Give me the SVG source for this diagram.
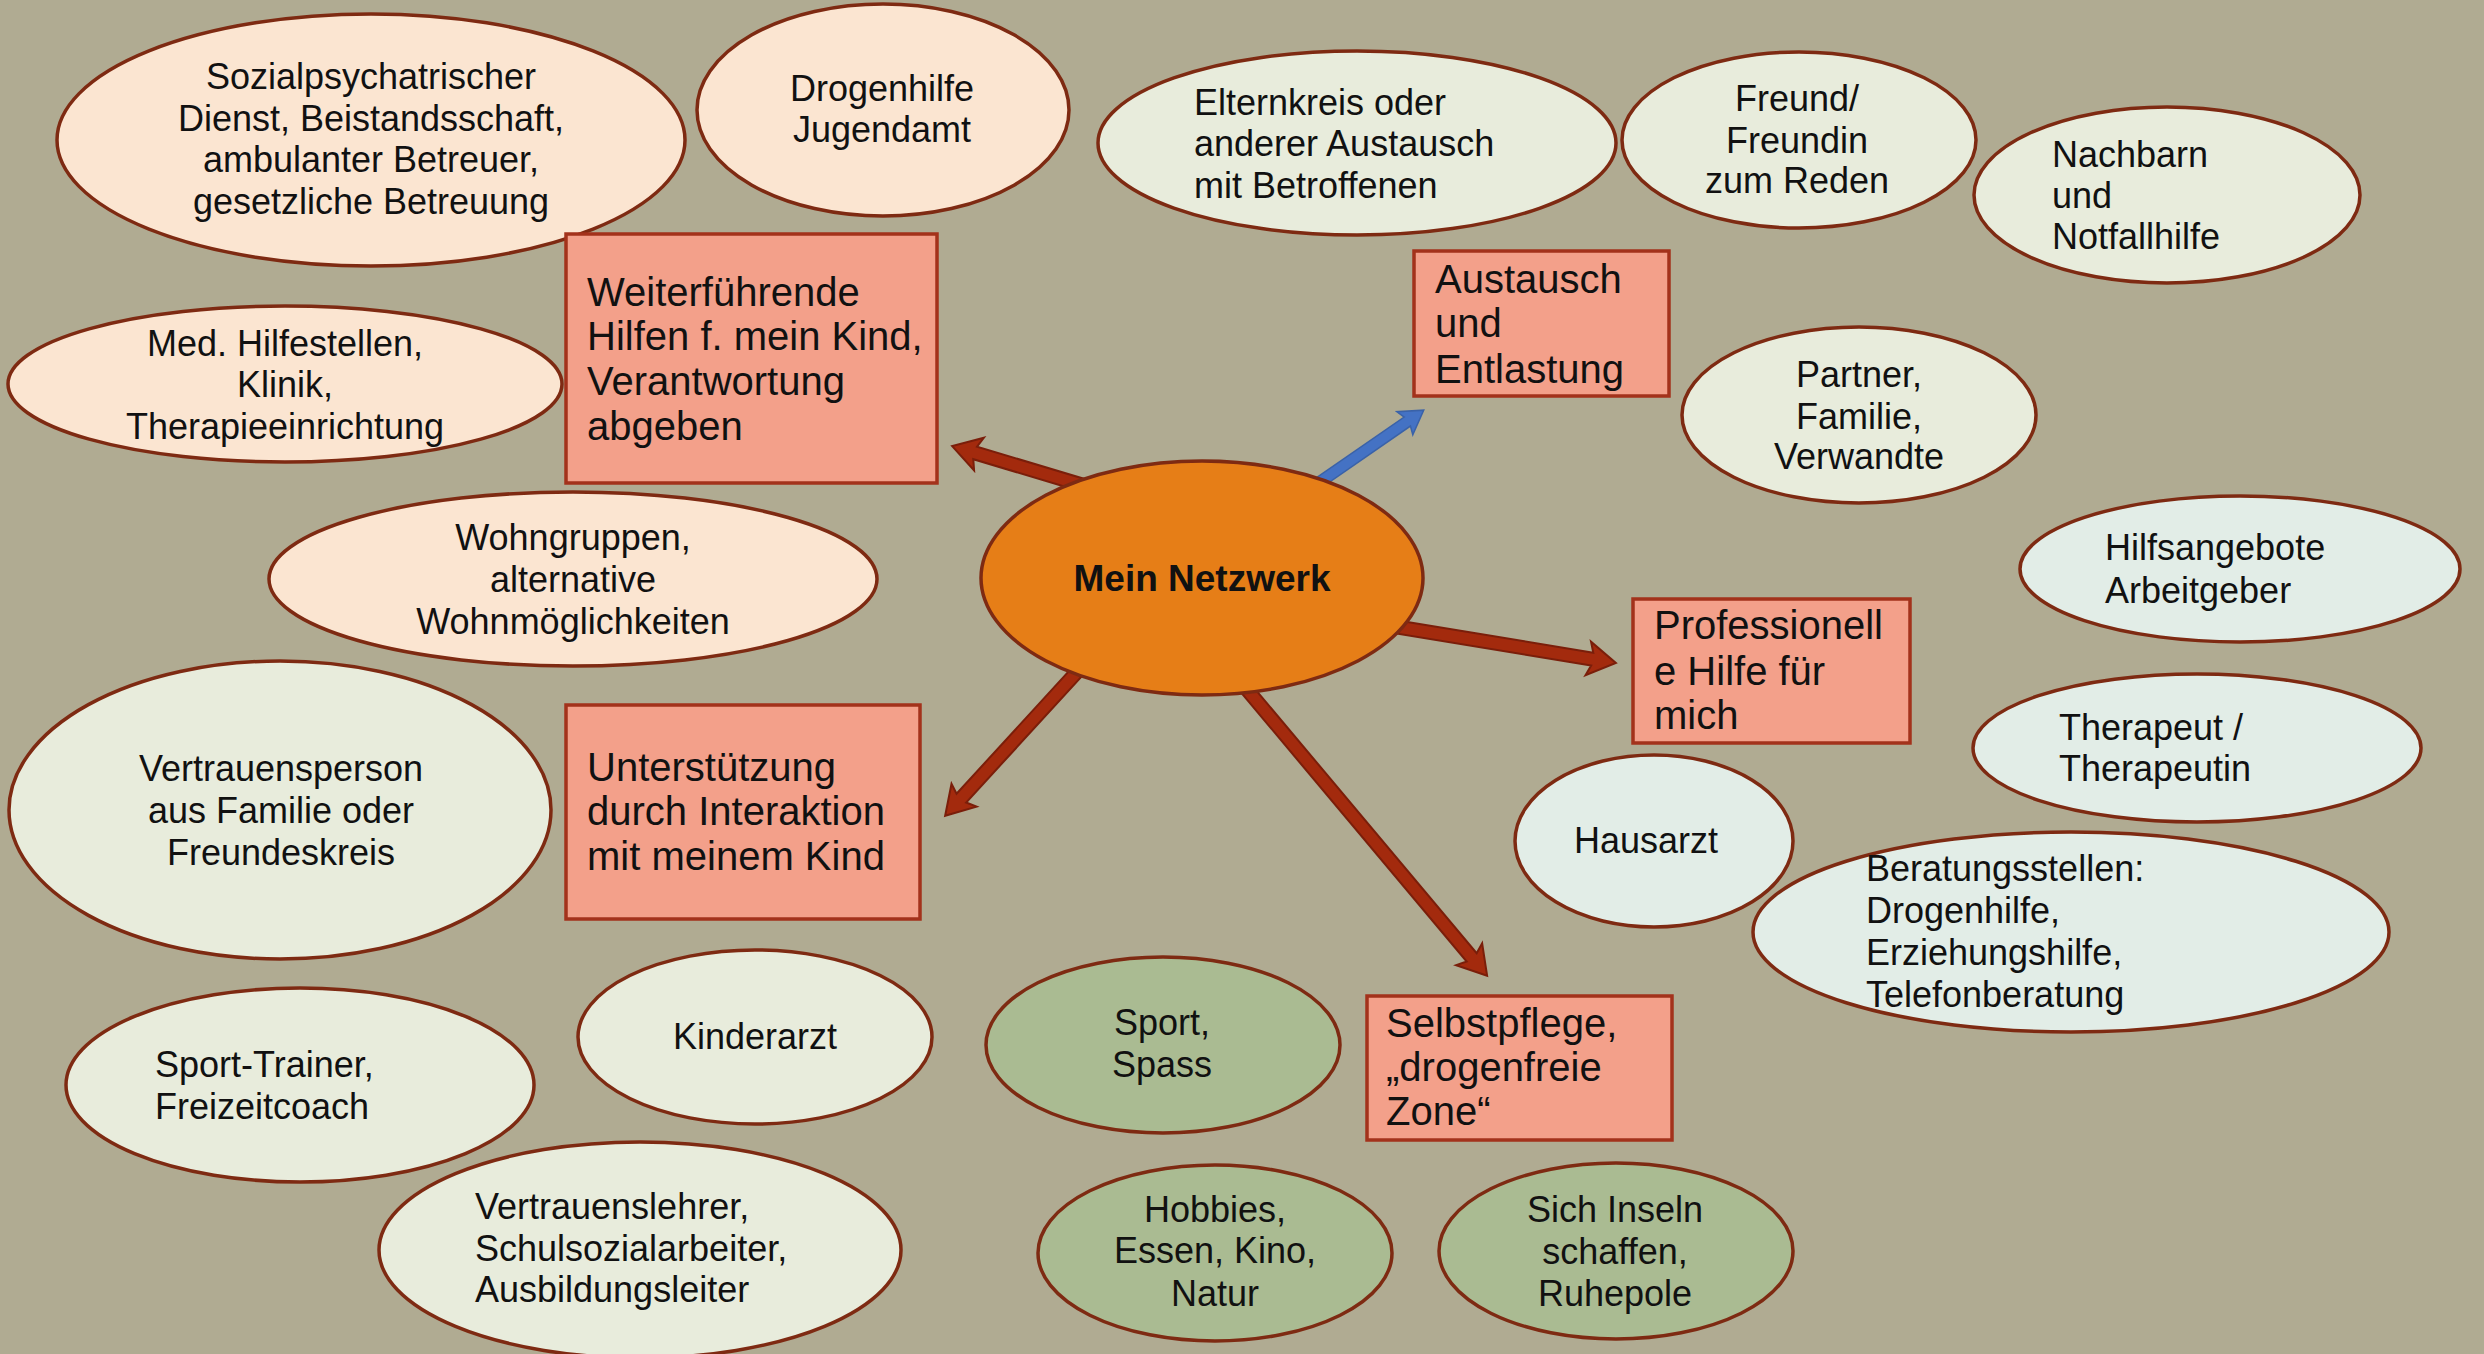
<svg xmlns="http://www.w3.org/2000/svg" width="2484" height="1354" viewBox="0 0 2484 1354">
<style>
.bg{fill:#B0AB92}
.peach{fill:#FBE5D1;stroke:#7E2A12;stroke-width:3.5}
.lg{fill:#E8ECDC;stroke:#7E2A12;stroke-width:3.5}
.lb{fill:#E2EDE7;stroke:#7E2A12;stroke-width:3.5}
.gr{fill:#AABB92;stroke:#7E2A12;stroke-width:3.5}
.box{fill:#F3A08A;stroke:#A3321B;stroke-width:3.5}
.ctr{fill:#E67E17;stroke:#7E2A12;stroke-width:3.5}
.arr{fill:#A32A0D;stroke:#7A1E0A;stroke-width:2;stroke-linejoin:miter}
.arrb{fill:#4472C4;stroke:#3A62A8;stroke-width:1.5}
text{font-family:"Liberation Sans",Arial,sans-serif;font-size:36px;fill:#111}
.c{text-anchor:middle}
.bt{font-size:40px}
.ct{font-size:37px;font-weight:bold;text-anchor:middle}
</style>
<rect class="bg" x="0" y="0" width="2484" height="1354"/>
<g id="connectors">
<polygon class="arr" transform="translate(1092,488) rotate(196.7)" points="0,-6.5 122,-6.5 118,-17 146,0 118,17 122,6.5 0,6.5"/>
<polygon class="arrb" transform="translate(1307,491) rotate(-34.7)" points="0,-5.5 122,-5.5 119,-14 142,0 119,14 122,5.5 0,5.5"/>
<polygon class="arr" transform="translate(1385,625) rotate(9.34)" points="0,-6.5 210,-6.5 206,-17 234,0 206,17 210,6.5 0,6.5"/>
<polygon class="arr" transform="translate(1087,661) rotate(132.5)" points="0,-6.5 186,-6.5 182,-17 210,0 182,17 186,6.5 0,6.5"/>
<polygon class="arr" transform="translate(1239,680) rotate(50)" points="0,-6.5 362,-6.5 358,-17 386,0 358,17 362,6.5 0,6.5"/>
</g>
<g id="n-sozial">
<ellipse class="peach" cx="371" cy="140" rx="314" ry="126"/>
<text class="c" x="371" y="89">Sozialpsychatrischer</text>
<text class="c" x="371" y="131">Dienst, Beistandsschaft,</text>
<text class="c" x="371" y="172">ambulanter Betreuer,</text>
<text class="c" x="371" y="214">gesetzliche Betreuung</text>
</g>
<g id="n-drogenhilfe">
<ellipse class="peach" cx="883" cy="110" rx="186" ry="106"/>
<text class="c" x="882" y="101">Drogenhilfe</text>
<text class="c" x="882" y="142">Jugendamt</text>
</g>
<g id="n-weiterfuehrende">
<rect class="box" x="566" y="234" width="371" height="249"/>
<text class="bt" x="587" y="306">Weiterführende</text>
<text class="bt" x="587" y="350">Hilfen f. mein Kind,</text>
<text class="bt" x="587" y="395">Verantwortung</text>
<text class="bt" x="587" y="440">abgeben</text>
</g>
<g id="n-med">
<ellipse class="peach" cx="285" cy="384" rx="277" ry="78"/>
<text class="c" x="285" y="356">Med. Hilfestellen,</text>
<text class="c" x="285" y="397">Klinik,</text>
<text class="c" x="285" y="439">Therapieeinrichtung</text>
</g>
<g id="n-wohngruppen">
<ellipse class="peach" cx="573" cy="579" rx="304" ry="87"/>
<text class="c" x="573" y="550">Wohngruppen,</text>
<text class="c" x="573" y="592">alternative</text>
<text class="c" x="573" y="634">Wohnmöglichkeiten</text>
</g>
<g id="n-center">
<ellipse class="ctr" cx="1202" cy="578" rx="221" ry="117"/>
<text class="ct" x="1202" y="591">Mein Netzwerk</text>
</g>
<g id="n-vertrauensperson">
<ellipse class="lg" cx="280" cy="810" rx="271" ry="149"/>
<text class="c" x="281" y="781">Vertrauensperson</text>
<text class="c" x="281" y="823">aus Familie oder</text>
<text class="c" x="281" y="865">Freundeskreis</text>
</g>
<g id="n-unterstuetzung">
<rect class="box" x="566" y="705" width="354" height="214"/>
<text class="bt" x="587" y="781">Unterstützung</text>
<text class="bt" x="587" y="825">durch Interaktion</text>
<text class="bt" x="587" y="870">mit meinem Kind</text>
</g>
<g id="n-sporttrainer">
<ellipse class="lg" cx="300" cy="1085" rx="234" ry="97"/>
<text x="155" y="1077">Sport-Trainer,</text>
<text x="155" y="1119">Freizeitcoach</text>
</g>
<g id="n-kinderarzt">
<ellipse class="lg" cx="755" cy="1037" rx="177" ry="87"/>
<text class="c" x="755" y="1049">Kinderarzt</text>
</g>
<g id="n-vertrauenslehrer">
<ellipse class="lg" cx="640" cy="1250" rx="261" ry="108"/>
<text x="475" y="1219">Vertrauenslehrer,</text>
<text x="475" y="1261">Schulsozialarbeiter,</text>
<text x="475" y="1302">Ausbildungsleiter</text>
</g>
<g id="n-sport">
<ellipse class="gr" cx="1163" cy="1045" rx="177" ry="88"/>
<text class="c" x="1162" y="1035">Sport,</text>
<text class="c" x="1162" y="1077">Spass</text>
</g>
<g id="n-hobbies">
<ellipse class="gr" cx="1215" cy="1253" rx="177" ry="88"/>
<text class="c" x="1215" y="1222">Hobbies,</text>
<text class="c" x="1215" y="1263">Essen, Kino,</text>
<text class="c" x="1215" y="1306">Natur</text>
</g>
<g id="n-selbstpflege">
<rect class="box" x="1367" y="996" width="305" height="144"/>
<text class="bt" x="1386" y="1037">Selbstpflege,</text>
<text class="bt" x="1386" y="1081">„drogenfreie</text>
<text class="bt" x="1386" y="1125">Zone“</text>
</g>
<g id="n-inseln">
<ellipse class="gr" cx="1616" cy="1251" rx="177" ry="88"/>
<text class="c" x="1615" y="1222">Sich Inseln</text>
<text class="c" x="1615" y="1264">schaffen,</text>
<text class="c" x="1615" y="1306">Ruhepole</text>
</g>
<g id="n-elternkreis">
<ellipse class="lg" cx="1357" cy="143" rx="259" ry="92"/>
<text x="1194" y="115">Elternkreis oder</text>
<text x="1194" y="156">anderer Austausch</text>
<text x="1194" y="198">mit Betroffenen</text>
</g>
<g id="n-freund">
<ellipse class="lg" cx="1799" cy="140" rx="177" ry="88"/>
<text class="c" x="1797" y="111">Freund/</text>
<text class="c" x="1797" y="153">Freundin</text>
<text class="c" x="1797" y="193">zum Reden</text>
</g>
<g id="n-nachbarn">
<ellipse class="lg" cx="2167" cy="195" rx="193" ry="88"/>
<text x="2052" y="167">Nachbarn</text>
<text x="2052" y="208">und</text>
<text x="2052" y="249">Notfallhilfe</text>
</g>
<g id="n-austausch">
<rect class="box" x="1414" y="251" width="255" height="145"/>
<text class="bt" x="1435" y="293">Austausch</text>
<text class="bt" x="1435" y="337">und</text>
<text class="bt" x="1435" y="383">Entlastung</text>
</g>
<g id="n-partner">
<ellipse class="lg" cx="1859" cy="415" rx="177" ry="88"/>
<text class="c" x="1859" y="387">Partner,</text>
<text class="c" x="1859" y="429">Familie,</text>
<text class="c" x="1859" y="469">Verwandte</text>
</g>
<g id="n-hilfsangebote">
<ellipse class="lb" cx="2240" cy="569" rx="220" ry="73"/>
<text x="2105" y="560">Hilfsangebote</text>
<text x="2105" y="603">Arbeitgeber</text>
</g>
<g id="n-professionell">
<rect class="box" x="1633" y="599" width="277" height="144"/>
<text class="bt" x="1654" y="639">Professionell</text>
<text class="bt" x="1654" y="685">e Hilfe für</text>
<text class="bt" x="1654" y="729">mich</text>
</g>
<g id="n-therapeut">
<ellipse class="lb" cx="2197" cy="748" rx="224" ry="74"/>
<text x="2059" y="740">Therapeut /</text>
<text x="2059" y="781">Therapeutin</text>
</g>
<g id="n-hausarzt">
<ellipse class="lb" cx="1654" cy="841" rx="139" ry="86"/>
<text class="c" x="1646" y="853">Hausarzt</text>
</g>
<g id="n-beratung">
<ellipse class="lb" cx="2071" cy="932" rx="318" ry="100"/>
<text x="1866" y="881">Beratungsstellen:</text>
<text x="1866" y="923">Drogenhilfe,</text>
<text x="1866" y="965">Erziehungshilfe,</text>
<text x="1866" y="1007">Telefonberatung</text>
</g>
</svg>
